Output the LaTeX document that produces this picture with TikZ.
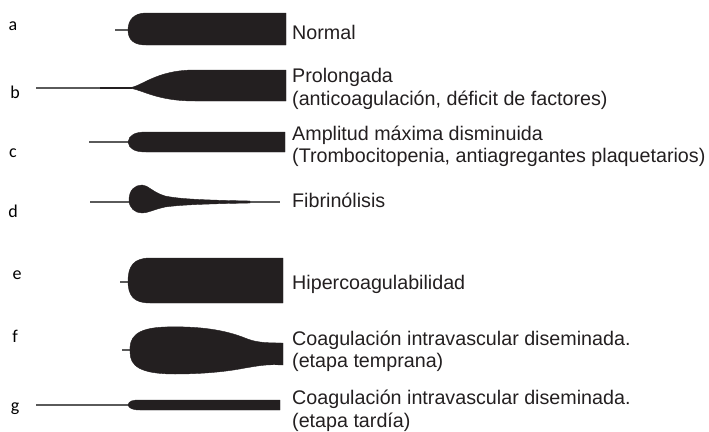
\documentclass[tikz,border=0pt]{standalone}
\usepackage{fontspec}
\setmainfont{Liberation Sans}
\newfontfamily\lblfont{Carlito}
\definecolor{ink}{HTML}{231F20}
\definecolor{tailgray}{HTML}{5A5A5A}
\definecolor{txt}{HTML}{231F20}
\begin{document}
\begin{tikzpicture}[x=1pt,y=-1pt,
  trace/.style={fill=ink, draw=ink, line width=0.4pt, line join=round},
  tailline/.style={draw=tailgray, line width=1.3pt},
  desc/.style={anchor=base west, inner sep=0pt, text=txt, font=\fontsize{19.7}{22}\selectfont},
  letter/.style={anchor=base, inner sep=0pt, text=black, font=\lblfont\fontsize{18}{20}\selectfont}]
\useasboundingbox (0,0) rectangle (709,431);

% row letters
\node[letter] (la) at (13,30) {a};
\node[letter] (lb) at (15,98) {b};
\node[letter] (lc) at (13,157) {c};
\node[letter] (ld) at (13,217) {d};
\node[letter] (le) at (17,279) {e};
\node[letter] (lf) at (15,342) {f};
\node[letter] (lg) at (15,411) {g};

% a: normal
\draw[tailline] (115,30) -- (130,30);
\draw[trace] (128,30) .. controls (128,20) and (134,13) .. (146,13) -- (286,13) -- (286,45) -- (146,45) .. controls (134,45) and (128,40) .. cycle;

% b: prolongada
\draw[tailline] (36,88) -- (104,88);
\draw[draw=ink, line width=2pt] (100,88) -- (132,88);
\draw[trace] (128,88) .. controls (142,87) and (155,70) .. (195,70) -- (286,70) -- (286,101) -- (195,101) .. controls (155,101) and (142,89) .. cycle;

% c: amplitud disminuida
\draw[tailline] (89,142) -- (132,142);
\draw[trace] (128,142) .. controls (129,135) and (135,132) .. (146,132) -- (285,132) -- (285,152) -- (146,152) .. controls (135,152) and (129,149) .. cycle;

% d: fibrinolisis
\draw[tailline] (90,202) -- (280,202);
\draw[trace] (129,200) .. controls (129,190) and (135,185) .. (142,185)
  .. controls (148,185) and (152,192) .. (165,196)
  .. controls (180,199) and (200,200) .. (250,201) -- (250,203)
  .. controls (200,204) and (180,205) .. (165,207)
  .. controls (152,210) and (148,213) .. (142,213)
  .. controls (135,213) and (129,208) .. cycle;

% e: hipercoagulabilidad
\draw[tailline] (120,282) -- (131,282);
\draw[trace] (128,281) .. controls (128,266) and (134,258) .. (150,258) -- (283,258) -- (283,303) -- (150,303) .. controls (134,303) and (128,296) .. cycle;

% f: CID temprana
\draw[tailline] (122,350) -- (131,350);
\draw[trace] (130,352) .. controls (129,338) and (135,328) .. (165,327)
  .. controls (200,326) and (225,330) .. (245,338)
  .. controls (255,342) and (262,343) .. (283,343) -- (283,365)
  .. controls (265,364) and (258,366) .. (245,368)
  .. controls (225,372) and (200,374) .. (175,374)
  .. controls (140,374) and (130,366) .. cycle;

% g: CID tardia
\draw[tailline] (36,405) -- (131,405);
\draw[trace] (128,405) .. controls (129,401) and (132,400) .. (140,400) -- (280,400) -- (280,410) -- (140,410) .. controls (132,410) and (129,408) .. cycle;

% descriptions
\node[desc] (ta) at (292,39) {Normal};
\node[desc] (tb1) at (292,82) {Prolongada};
\node[desc] (tb2) at (292,105) {(anticoagulación, déficit de factores)};
\node[desc] (tc1) at (292,140) {Amplitud máxima disminuida};
\node[desc] (tc2) at (292,162) {(Trombocitopenia, antiagregantes plaquetarios)};
\node[desc] (td) at (292,207) {Fibrinólisis};
\node[desc] (te) at (292,289) {Hipercoagulabilidad};
\node[desc] (tf1) at (292,345) {Coagulación intravascular diseminada.};
\node[desc] (tf2) at (292,367) {(etapa temprana)};
\node[desc] (tg1) at (292,404) {Coagulación intravascular diseminada.};
\node[desc] (tg2) at (292,427) {(etapa tardía)};
\end{tikzpicture}
\end{document}
